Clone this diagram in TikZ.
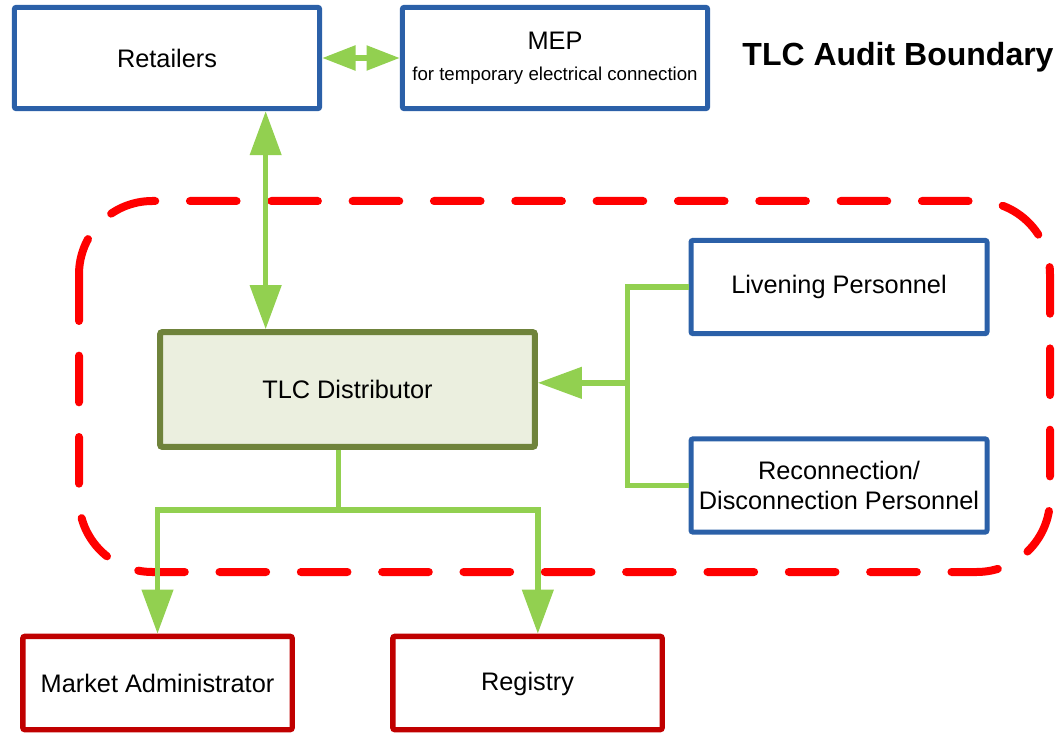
\documentclass[tikz,border=0pt]{standalone}
\usepackage{fontspec}
\setmainfont{Liberation Sans}
\usepackage{tikz}
\usetikzlibrary{arrows.meta,positioning,calc}
\definecolor{partyblue}{RGB}{43,96,168}
\definecolor{distolive}{RGB}{111,131,59}
\definecolor{distfill}{RGB}{235,239,223}
\definecolor{extred}{RGB}{192,0,0}
\definecolor{flowgreen}{RGB}{146,208,80}
\definecolor{auditred}{RGB}{255,0,0}

\begin{document}
\begin{tikzpicture}[
    x=0.75pt, y=-0.75pt,
    >={Triangle[length=33pt,width=23pt]},
    every node/.style={font=\fontsize{19pt}{22.5pt}\selectfont, align=center, inner sep=0pt},
    party/.style={draw=partyblue, line width=3.75pt, rounded corners=1.5pt, minimum width=229pt, minimum height=76pt},
    inside/.style={draw=partyblue, line width=3.75pt, rounded corners=1.5pt, minimum width=222pt, minimum height=70pt},
    dist/.style={draw=distolive, fill=distfill, line width=4.5pt, rounded corners=1.5pt, minimum width=281pt, minimum height=86pt},
    external/.style={draw=extred, line width=4pt, rounded corners=1.5pt, minimum width=202pt, minimum height=70pt},
    link/.style={draw=flowgreen, line width=4pt},
    boundary/.style={draw=auditred, line width=6pt, line cap=round, dash pattern=on 35pt off 26pt, rounded corners=55pt}
]
  \useasboundingbox (0,0) rectangle (1057,734);

  % audit boundary
  \draw[boundary] (79,201) rectangle (1050,572);

  % nodes
  \node[party] (R) at (167,58) {Retailers};
  \node[party] (M) at (555,58) {MEP\\[1pt]{\fontsize{14pt}{17pt}\selectfont for temporary electrical connection}};
  \node[font=\fontsize{24pt}{28pt}\selectfont\bfseries] (T) at (898,57) {TLC Audit Boundary};
  \node[dist] (D) at (347.5,389.5) {TLC Distributor};
  \node[inside] (L) at (839,287) {Livening Personnel};
  \node[inside] (C) at (839,485.5) {Reconnection/\\Disconnection Personnel};
  \node[external] (A) at (157.5,683) {Market Administrator};
  \node[external, text depth=2pt] (G) at (527.5,683) {Registry};

  % edges
  \draw[link, {Triangle[length=25pt,width=18pt]}-{Triangle[length=25pt,width=18pt]}] (R.east) -- (R.east -| M.west);
  \draw[link, <->] ([xshift=74pt]R.south) -- ([xshift=74pt]R.south |- D.north);
  \draw[link] (L.west) -- ++(-61,0) coordinate (bus) |- (C.west);
  \draw[link, ->] ([yshift=5pt]D.east -| bus) -- ([yshift=5pt]D.east);
  \draw[link] ([xshift=-7pt]D.south) -- ++(0,60) coordinate (split);
  \draw[link, ->] (split) -| (A.north);
  \draw[link, ->] (split) -| (G.north -| D.east);
\end{tikzpicture}
\end{document}
